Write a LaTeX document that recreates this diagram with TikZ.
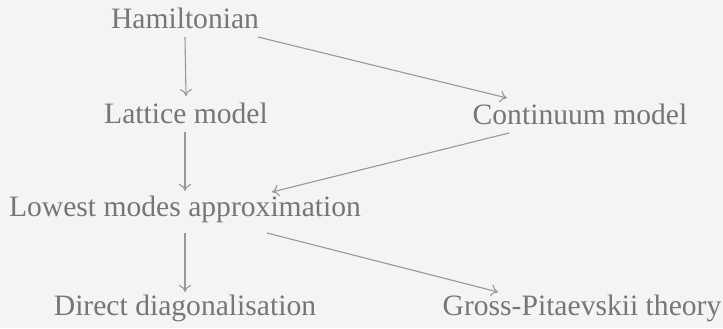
\documentclass[tikz,border=0pt]{standalone}
\usepackage{fontspec}
\setmainfont{Liberation Serif}
\usetikzlibrary{calc,arrows.meta}
\definecolor{bgc}{HTML}{F4F4F3}
\definecolor{txtc}{HTML}{767676}
\definecolor{linec}{HTML}{989898}
\tikzset{
  lbl/.style={anchor=base,inner sep=0pt,text=txtc,font=\fontsize{14.8}{17}\selectfont},
  arr/.style={draw=linec,line width=0.55pt,-{To[length=3.5pt,width=6pt]}}
}
\begin{document}
\begin{tikzpicture}[x=0.5pt,y=-0.5pt]
\fill[bgc] (0,0) rectangle (723,328);
\useasboundingbox (0,0) rectangle (723,328);
\node[lbl] (ham) at (185,28) {Hamiltonian};
\node[lbl] (lat) at (186,123) {Lattice model};
\node[lbl] (cont) at (580,124) {Continuum model};
\node[lbl] (low) at (185,216) {Lowest modes approximation};
\node[lbl] (dir) at (185,315) {Direct diagonalisation};
\node[lbl] (gp) at (582,315) {Gross-Pitaevskii theory};
\draw[arr] ($(ham.base)+(0,9)$) -- ($(lat.base)+(0,-27)$);
\draw[arr] ($(lat.base)+(-1,9)$) -- ($(low.base)+(0,-25)$);
\draw[arr] ($(low.base)+(0,17)$) -- ($(dir.base)+(0,-23)$);
\draw[arr] ($(ham.base)+(73,9)$) -- ($(cont.base)+(-73,-26)$);
\draw[arr] ($(cont.base)+(-71,9)$) -- ($(low.base)+(87,-24)$);
\draw[arr] ($(low.base)+(82,17)$) -- ($(gp.base)+(-84,-23)$);
\end{tikzpicture}
\end{document}
